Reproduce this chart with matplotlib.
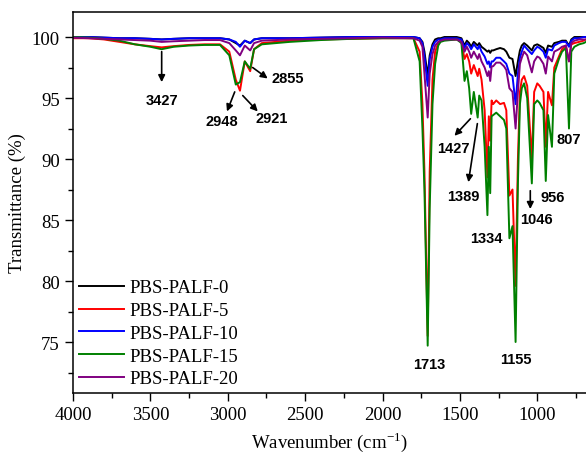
import numpy as np
import matplotlib
matplotlib.use("Agg")
import matplotlib.pyplot as plt

wavenumber = [4000, 3900, 3800, 3700, 3600, 3500, 3427, 3350, 3250, 3150, 3050, 2990,
              2948, 2921, 2890, 2855, 2830, 2780, 2600, 2400, 2200, 2000, 1800, 1760,
              1742, 1729, 1708, 1695, 1677, 1660, 1640, 1625, 1600, 1520, 1490, 1470,
              1455, 1440, 1427, 1410, 1385, 1375, 1360, 1340, 1322, 1313, 1304, 1295,
              1285, 1265, 1240, 1215, 1200, 1180, 1160, 1140, 1125, 1112, 1100, 1085,
              1065, 1035, 1020, 1000, 985, 960, 945, 930, 905, 890, 860, 840,
              815, 795, 780, 760, 730, 700, 685]

palf0 = [100.0, 100.0, 99.95, 99.9, 99.9, 99.85, 99.8, 99.85, 99.9, 99.9, 99.9, 99.8,
         99.5, 99.3, 99.7, 99.5, 99.8, 99.9, 99.9, 99.95, 100.0, 100.0, 100.0, 99.9,
         99.6, 98.8, 96.8, 98.5, 99.4, 99.8, 99.9, 99.9, 100.0, 100.0, 99.9, 99.3,
         99.7, 99.5, 99.2, 99.6, 99.3, 99.5, 99.2, 99.0, 98.8, 98.9, 98.7, 98.9,
         98.9, 99.0, 99.1, 99.0, 98.8, 98.3, 98.2, 96.8, 98.0, 98.9, 99.3, 99.5,
         99.3, 98.9, 99.3, 99.4, 99.3, 99.1, 98.7, 99.3, 99.2, 99.5, 99.6, 99.7,
         99.7, 99.3, 99.8, 100.0, 100.0, 100.0, 100.0]

palf5 = [99.9, 99.9, 99.8, 99.6, 99.4, 99.25, 99.15, 99.25, 99.35, 99.4, 99.4, 98.8,
         96.5, 95.6, 98.0, 97.2, 99.0, 99.5, 99.7, 99.8, 99.85, 99.9, 99.9, 98.8,
         94.5, 89.0, 75.5, 89.0, 96.5, 98.8, 99.5, 99.7, 99.8, 99.8, 99.6, 98.2,
         98.6, 98.0, 97.0, 97.7, 96.8, 97.4, 96.5, 94.0, 88.5, 93.5, 91.5, 94.8,
         94.5, 94.8, 94.5, 94.6, 94.0, 87.0, 87.5, 79.6, 90.0, 95.5, 96.5, 96.8,
         96.0, 90.0, 95.5, 96.2, 96.0, 95.5, 91.0, 95.5, 94.4, 97.5, 98.4, 99.0,
         99.3, 98.0, 99.4, 99.5, 99.6, 99.7, 99.8]

palf10 = [100.0, 100.0, 99.95, 99.9, 99.9, 99.85, 99.8, 99.85, 99.9, 99.9, 99.9, 99.8,
          99.6, 99.2, 99.7, 99.5, 99.8, 99.9, 99.9, 99.95, 100.0, 100.0, 100.0, 99.9,
          99.5, 98.4, 96.0, 98.2, 99.2, 99.6, 99.8, 99.8, 99.9, 99.9, 99.8, 99.1,
          99.5, 99.3, 99.0, 99.4, 99.0, 99.3, 98.8, 98.4, 97.8, 98.0, 97.5, 98.0,
          98.0, 98.3, 98.3, 98.0, 97.8, 97.0, 96.8, 94.5, 97.0, 98.3, 98.8, 99.3,
          99.0, 98.6, 98.9, 99.2, 99.1, 98.8, 98.3, 99.0, 98.9, 99.3, 99.5, 99.6,
          99.6, 99.2, 99.7, 99.9, 99.9, 100.0, 100.0]

palf15 = [100.0, 99.95, 99.85, 99.7, 99.4, 99.2, 99.0, 99.2, 99.3, 99.35, 99.35, 98.5,
          96.1, 96.3, 98.0, 97.4, 99.0, 99.4, 99.6, 99.75, 99.85, 99.9, 99.9, 98.0,
          92.5, 87.5, 74.7, 86.0, 94.5, 97.8, 99.3, 99.6, 99.7, 99.8, 99.5, 96.4,
          97.2, 95.8, 93.7, 95.5, 93.4, 95.2, 94.8, 91.0, 85.4, 91.0, 87.2, 93.5,
          93.6, 93.8, 93.5, 93.2, 92.5, 83.5, 84.5, 75.0, 88.0, 94.5, 95.8, 96.2,
          95.0, 88.0, 94.5, 94.8, 94.6, 94.0, 88.2, 93.6, 91.0, 97.0, 98.2, 98.8,
          99.1, 92.5, 98.8, 99.2, 99.4, 99.5, 99.6]

palf20 = [99.95, 99.9, 99.85, 99.8, 99.75, 99.7, 99.6, 99.65, 99.7, 99.75, 99.75, 99.5,
          98.9, 98.5, 99.3, 98.9, 99.5, 99.7, 99.8, 99.85, 99.9, 99.95, 99.9, 99.7,
          99.2, 97.0, 93.4, 97.0, 98.6, 99.3, 99.6, 99.7, 99.8, 99.8, 99.6, 98.8,
          99.2, 98.8, 98.3, 98.8, 98.2, 98.6, 98.0, 97.5, 96.8, 97.2, 96.4, 97.6,
          97.6, 97.9, 97.9, 97.6, 97.3, 95.8, 95.5, 92.5, 95.5, 97.8, 98.3, 98.8,
          98.5, 97.1, 98.0, 98.4, 98.3, 97.8, 97.0, 98.4, 98.0, 98.8, 99.0, 99.2,
          99.3, 98.0, 99.5, 99.7, 99.8, 99.8, 99.8]

labels = ["PBS-PALF-0", "PBS-PALF-5", "PBS-PALF-10", "PBS-PALF-15", "PBS-PALF-20"]
colors = ["black", "red", "blue", "green", "purple"]
series = [palf0, palf5, palf10, palf15, palf20]

# peak labels: text, text position, arrow tail, arrow head (None = no arrow)
peaks = [
    ("3427", (3427, 94.8), (3427, 98.8), (3427, 96.3)),
    ("2948", (3040, 93.1), (2955, 95.5), (3005, 93.9)),
    ("2921", (2716, 93.4), (2903, 95.2), (2806, 93.9)),
    ("2855", (2613, 96.6), (2839, 97.5), (2742, 96.6)),
    ("1427", (1542, 90.9), (1432, 93.3), (1535, 91.9)),
    ("1389", (1477, 87.0), (1387, 92.9), (1445, 88.1)),
    ("1334", (1329, 83.5), None, None),
    ("1046", (1005, 85.1), (1045, 87.4), (1045, 85.9)),
    ("956", (903, 86.9), None, None),
    ("807", (794, 91.6), None, None),
    ("1713", (1697, 73.2), None, None),
    ("1155", (1135, 73.6), None, None),
]

serif = ["Liberation Serif", "DejaVu Serif"]
plt.rcParams['font.family'] = serif

fig = plt.figure(figsize=(5.86, 4.6), dpi=100)
ax = fig.add_axes([73 / 586, 1 - 394 / 460, 1 - 73 / 586, (394 - 13) / 460])

for y, c, lab in zip(series, colors, labels):
    ax.plot(wavenumber, y, color=c, lw=1.4, label=lab)

for txt, pos, tail, head in peaks:
    ax.text(pos[0], pos[1], txt, ha="center", va="center", fontsize=10.5,
            fontweight="bold", family="Liberation Sans")
    if tail is not None:
        ax.annotate("", xy=head, xytext=tail,
                    arrowprops=dict(arrowstyle="-|>", color="black", lw=1.2,
                                    mutation_scale=10, shrinkA=0, shrinkB=0))

ax.set_xlim(4000, 685)
ax.set_ylim(70.82, 102.05)
ax.set_xticks([4000, 3500, 3000, 2500, 2000, 1500, 1000])
ax.set_xticks(np.arange(3750, 680, -500), minor=True)
ax.set_yticks([75, 80, 85, 90, 95, 100])
ax.set_yticks([72.5, 77.5, 82.5, 87.5, 92.5, 97.5], minor=True)
ax.tick_params(which="major", length=6, width=1, labelsize=13.5, direction="out")
ax.tick_params(which="minor", length=3.5, width=1, direction="out")
ax.spines["right"].set_visible(False)
for s in ["left", "bottom", "top"]:
    ax.spines[s].set_linewidth(1.1)

ax.set_xlabel("Wavenumber (cm$^{\\mathregular{-1}}$)", fontsize=13.5)
ax.set_ylabel("Transmittance (%)", fontsize=13.5)

ax.legend(loc="lower left", bbox_to_anchor=(-0.01, -0.015), frameon=False,
          fontsize=13.5, handlelength=2.4, handletextpad=0.3, labelspacing=0.3,
          borderaxespad=0.2)

fig.savefig("out.png", dpi=100)
